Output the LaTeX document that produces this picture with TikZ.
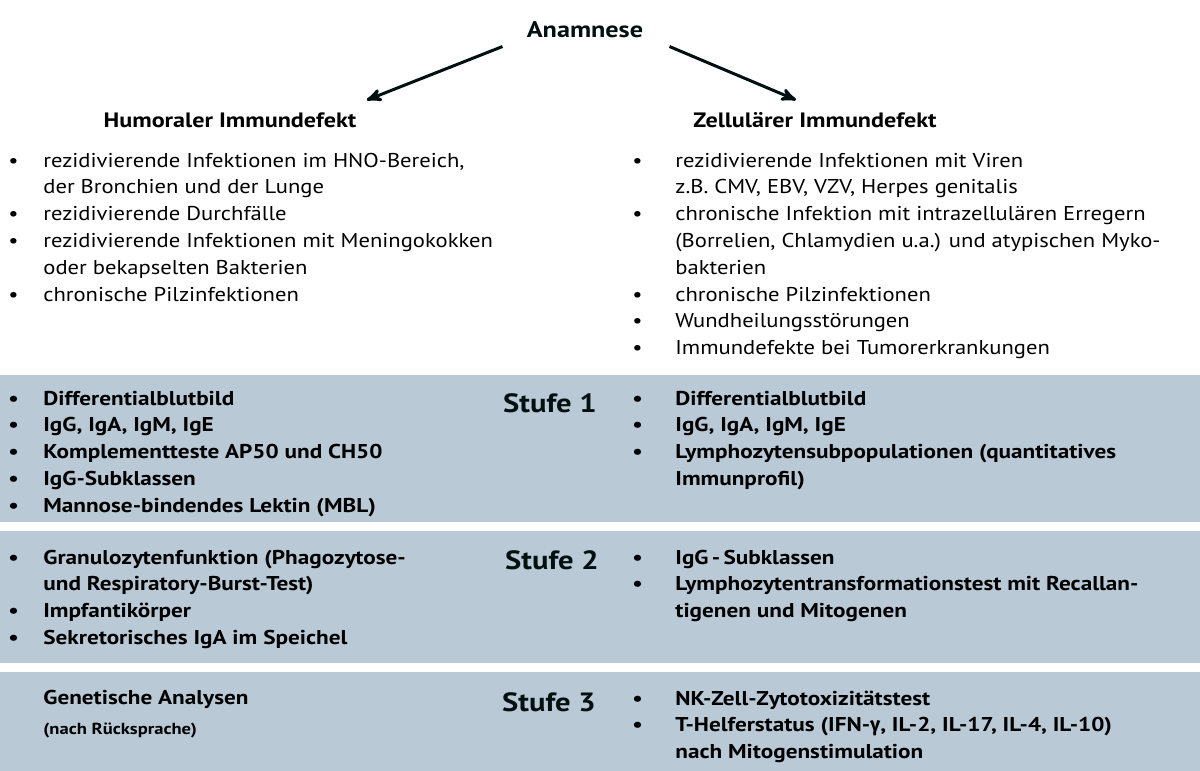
\documentclass[tikz,border=0pt]{standalone}
\usepackage{fontspec}
\setmainfont{PT Sans}[FakeStretch=1.13, BoldFeatures={FakeStretch=1.16}]
\newfontfamily\grkfont{Fira Sans}
\usepackage{xcolor}
\definecolor{colorBand}{RGB}{185,201,214}
\colorlet{colorHead}{black!80!teal!60!black}
\usetikzlibrary{arrows, positioning}
\tikzset{
  txt/.style={inner sep=0pt, font=\fontsize{10}{13.4}\selectfont},
  bld/.style={inner sep=0pt, font=\fontsize{10}{13.4}\selectfont\bfseries},
  head/.style={inner sep=0pt, font=\fontsize{10.4}{13}\selectfont\bfseries},
  stufe/.style={inner sep=0pt, text=colorHead, font=\fontsize{13.2}{16}\selectfont\bfseries},
  arrowline/.style={->, line width=1.5pt, draw=colorHead},
}
\newcommand{\li}{\textbullet}

\begin{document}
\begin{tikzpicture}[x=0.5pt, y=-0.5pt, >=stealth']
\useasboundingbox (0,0) rectangle (1200,771);
% bands
\fill[colorBand] (0,375) rectangle (1200,522);
\fill[colorBand] (0,531) rectangle (1200,663);
\fill[colorBand] (0,672) rectangle (1200,771);

\node[head, text=colorHead, font=\fontsize{11.3}{14}\selectfont\bfseries] (anam) at (585,30) {Anamnese};
\node[head] (hum) at (230,120) {Humoraler Immundefekt};
\node[head] (zell) at (815,120) {Zellulärer Immundefekt};
\draw[arrowline] ([xshift=-12pt,yshift=-4pt]anam.south west) -- ([xshift=5pt,yshift=6pt]hum.north east);
\draw[arrowline] ([xshift=13pt,yshift=-4pt]anam.south east) -- ([xshift=-9.5pt,yshift=6pt]zell.north);

\node[txt, anchor=base west] (hlist) at (8,167) {\begin{tabular}[t]{@{}p{17.5pt}@{}l@{}}
\li & rezidivierende Infektionen im HNO-Bereich,\\
    & der Bronchien und der Lunge\\
\li & rezidivierende Durchfälle\\
\li & rezidivierende Infektionen mit Meningokokken\\
    & oder bekapselten Bakterien\\
\li & chronische Pilzinfektionen
\end{tabular}};
\node[txt, anchor=base west] (zlist) at (632,167) {\begin{tabular}[t]{@{}p{21.5pt}@{}l@{}}
\li & rezidivierende Infektionen mit Viren\\
    & z.B. CMV, EBV, VZV, Herpes genitalis\\
\li & chronische Infektion mit intrazellulären Erregern\\
    & (Borrelien, Chlamydien u.a.) und atypischen Myko-\\
    & bakterien\\
\li & chronische Pilzinfektionen\\
\li & Wundheilungsstörungen\\
\li & Immundefekte bei Tumorerkrankungen
\end{tabular}};

% Stufe 1
\node[stufe] (st1) at (550,403) {Stufe 1};
\node[bld, anchor=base west] (s1l) at (8,405) {\begin{tabular}[t]{@{}p{17.5pt}@{}l@{}}
\li & Differentialblutbild\\
\li & IgG, IgA, IgM, IgE\\
\li & Komplementteste AP50 und CH50\\
\li & IgG-Subklassen\\
\li & Mannose-bindendes Lektin (MBL)
\end{tabular}};
\node[bld, anchor=base west] (s1r) at (632,405) {\begin{tabular}[t]{@{}p{21.5pt}@{}l@{}}
\li & Differentialblutbild\\
\li & IgG, IgA, IgM, IgE\\
\li & Lymphozytensubpopulationen (quantitatives\\
    & Immunprofil)
\end{tabular}};

% Stufe 2
\node[stufe] (st2) at (552,560) {Stufe 2};
\node[bld, anchor=base west] (s2l) at (8,564) {\begin{tabular}[t]{@{}p{17.5pt}@{}l@{}}
\li & Granulozytenfunktion (Phagozytose-\\
    & und Respiratory-Burst-Test)\\
\li & Impfantikörper\\
\li & Sekretorisches IgA im Speichel
\end{tabular}};
\node[bld, anchor=base west] (s2r) at (632,564) {\begin{tabular}[t]{@{}p{21.5pt}@{}l@{}}
\li & IgG\,-\,Subklassen\\
\li & Lymphozytentransformationstest mit Recallan-\\
    & tigenen und Mitogenen
\end{tabular}};

% Stufe 3
\node[stufe] (st3) at (549,702) {Stufe 3};
\node[bld, anchor=base west] (gen) at (43,704) {Genetische Analysen};
\node[bld, font=\fontsize{8}{9}\selectfont\bfseries, below right=7pt and 0pt of gen.south west] (rueck) {(nach Rücksprache)};
\node[bld, anchor=base west] (s3r) at (632,705) {\begin{tabular}[t]{@{}p{21.5pt}@{}l@{}}
\li & NK-Zell-Zytotoxizitätstest\\
\li & T-Helferstatus (IFN-{\grkfont γ}, IL-2, IL-17, IL-4, IL-10)\\
    & nach Mitogenstimulation
\end{tabular}};
\end{tikzpicture}
\end{document}
